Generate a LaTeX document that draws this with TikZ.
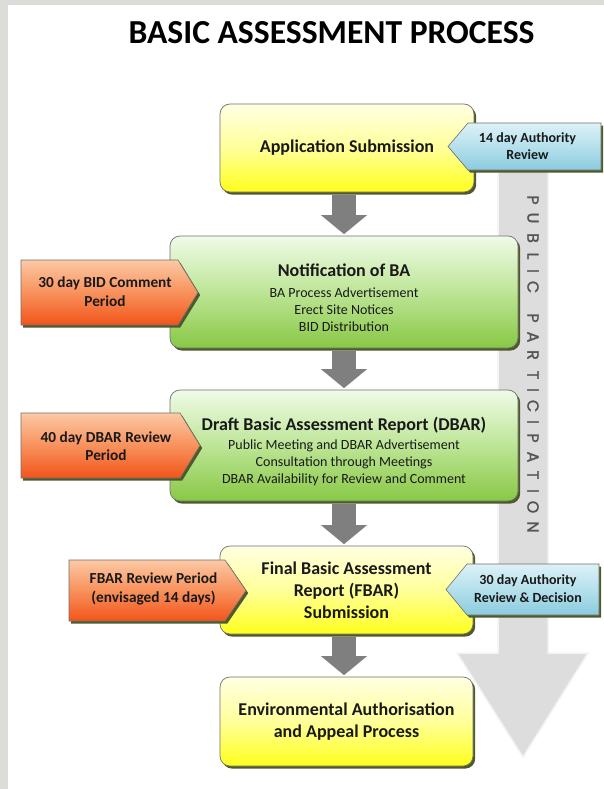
\documentclass[tikz,border=0pt]{standalone}
\usepackage{fontspec}
\setmainfont{Carlito}
\newfontfamily\ppfont[FakeBold=1.6]{Poppins}
\usetikzlibrary{arrows.meta,shadows}
\definecolor{bggray}{HTML}{DCDCD8}
\definecolor{shadowol}{HTML}{4E5A2C}
\definecolor{boxline}{HTML}{707070}
\definecolor{ylight}{HTML}{FFFFE2}
\definecolor{ymid}{HTML}{FFFF9A}
\definecolor{ydark}{HTML}{FFFF1C}
\definecolor{glight}{HTML}{F0FBE8}
\definecolor{gmid}{HTML}{BDE596}
\definecolor{gdark}{HTML}{88C845}
\definecolor{olight}{HTML}{FCC9A4}
\definecolor{omid}{HTML}{F8915C}
\definecolor{odark}{HTML}{F2541A}
\definecolor{blight}{HTML}{DDF1F7}
\definecolor{bmid}{HTML}{B5E0EC}
\definecolor{bdark}{HTML}{8BCBDE}
\definecolor{conngray}{HTML}{7F7F7F}
\definecolor{bigarrow}{HTML}{DDDDDD}
\definecolor{bigedge}{HTML}{F3F3F3}
\definecolor{pptext}{HTML}{555555}
\begin{document}
\begin{tikzpicture}[x=1pt,y=-1pt,
  shad/.style={drop shadow={opacity=1, fill=shadowol, shadow xshift=2.2pt, shadow yshift=-2.6pt}},
  box/.style={rounded corners=10pt, draw=boxline, line width=0.7pt, shad, align=center,
    inner sep=0pt, text=black!90},
  ybox/.style={box, top color=ylight, bottom color=ydark, middle color=ymid,
    font=\bfseries\fontsize{18}{22}\selectfont},
  gbox/.style={box, top color=glight, bottom color=gdark, middle color=gmid},
  ocall/.style={draw=boxline, line width=0.6pt, shad, top color=olight, bottom color=odark, middle color=omid},
  bcall/.style={draw=boxline, line width=0.6pt, shad, top color=blight, bottom color=bdark, middle color=bmid},
  otext/.style={align=center, inner sep=0pt, text=black!90, font=\bfseries\fontsize{15.3}{18.5}\selectfont},
  btext/.style={align=center, inner sep=0pt, text=black!90, font=\bfseries\fontsize{14}{17.5}\selectfont},
  gtext/.style={align=center, inner sep=0pt, text=black!90, font=\fontsize{14}{17}\selectfont},
  conn/.style={conngray, line width=24pt, -{Triangle[width=45pt,length=19pt]}, shorten <=3pt, shorten >=1.5pt},
  ppletter/.style={rotate=-90, inner sep=0pt, text=pptext, font=\ppfont\fontsize{16}{16}\selectfont}
]
\useasboundingbox (0,0) rectangle (604,789);
\fill[bggray] (0,0) rectangle (604,789);
\fill[white] (8,5) rectangle (604,789);

% title
\node[font=\bfseries\fontsize{33.6}{38}\selectfont, inner sep=0pt] (title) at (331.5,33) {BASIC ASSESSMENT PROCESS};

% public participation arrow
\path[fill=bigarrow, draw=bigedge, line width=1.5pt]
  (498,150) -- (548,150) -- (548,653) -- (588,653) -- (523,757) -- (457,653) -- (498,653) -- cycle;
\foreach \l/\yy [count=\i] in {P/200,U/218,B/238,L/256,I/271,C/287,P/318,A/337,R/355,T/375,I/390,C/406,I/422,P/438,A/457,T/475,I/491,O/507,N/527}
  \node[ppletter, name=pp\i] at (533,\yy) {\l};

% main boxes
\node[ybox, minimum width=254pt, minimum height=88pt] (b1) at (347,148) {Application Submission};
\node[gbox, minimum width=348pt, minimum height=112pt] (b2) at (344,292) {};
\node[gbox, minimum width=348pt, minimum height=111pt] (b3) at (344,445.5) {};
\node[ybox, minimum width=253pt, minimum height=88pt] (b4) at (346.5,590) {Final Basic Assessment\\Report (FBAR)\\Submission};
\node[ybox, minimum width=253pt, minimum height=89pt] (b5) at (346.5,721.5) {Environmental Authorisation\\and Appeal Process};

\node[gtext] (b2t) at (344,297.5) {{\bfseries\fontsize{18}{18}\selectfont Notification of BA}\\[3.5pt]
  BA Process Advertisement\\Erect Site Notices\\BID Distribution};
\node[gtext] (b3t) at (344,451) {{\bfseries\fontsize{18}{18}\selectfont Draft Basic Assessment Report (DBAR)}\\[2pt]
  Public Meeting and DBAR Advertisement\\Consultation through Meetings\\DBAR Availability for Review and Comment};

% connectors
\draw[conn] (b2.north |- b1.south) -- (b2.north);
\draw[conn] (b2.south) -- (b3.north);
\draw[conn] (b3.south) -- (b3.south |- b4.north);
\draw[conn] (b3.south |- b4.south) -- (b3.south |- b5.north);

% callouts
\path[bcall] (448,146.5) -- (468,123) -- (601,123) -- (601,170) -- (468,170) -- cycle;
\node[btext] (c1) at (527.5,146) {14 day Authority\\Review};

\path[ocall] (21,260) -- (178,260) -- (198,292.5) -- (178,325) -- (21,325) -- cycle;
\node[otext] (c2) at (105,291.5) {30 day BID Comment\\Period};

\path[ocall] (21,413) -- (180,413) -- (200,445.5) -- (180,478) -- (21,478) -- cycle;
\node[otext] (c3) at (106,446) {40 day DBAR Review\\Period};

\path[ocall] (69,560) -- (225,560) -- (246,590.5) -- (225,621) -- (69,621) -- cycle;
\node[otext] (c4) at (153.5,589) {FBAR Review Period\\(envisaged 14 days)};

\path[bcall] (446,589.5) -- (467,564) -- (599,564) -- (599,615) -- (467,615) -- cycle;
\node[btext] (c5) at (528,588.5) {30 day Authority\\Review \& Decision};
\end{tikzpicture}
\end{document}
